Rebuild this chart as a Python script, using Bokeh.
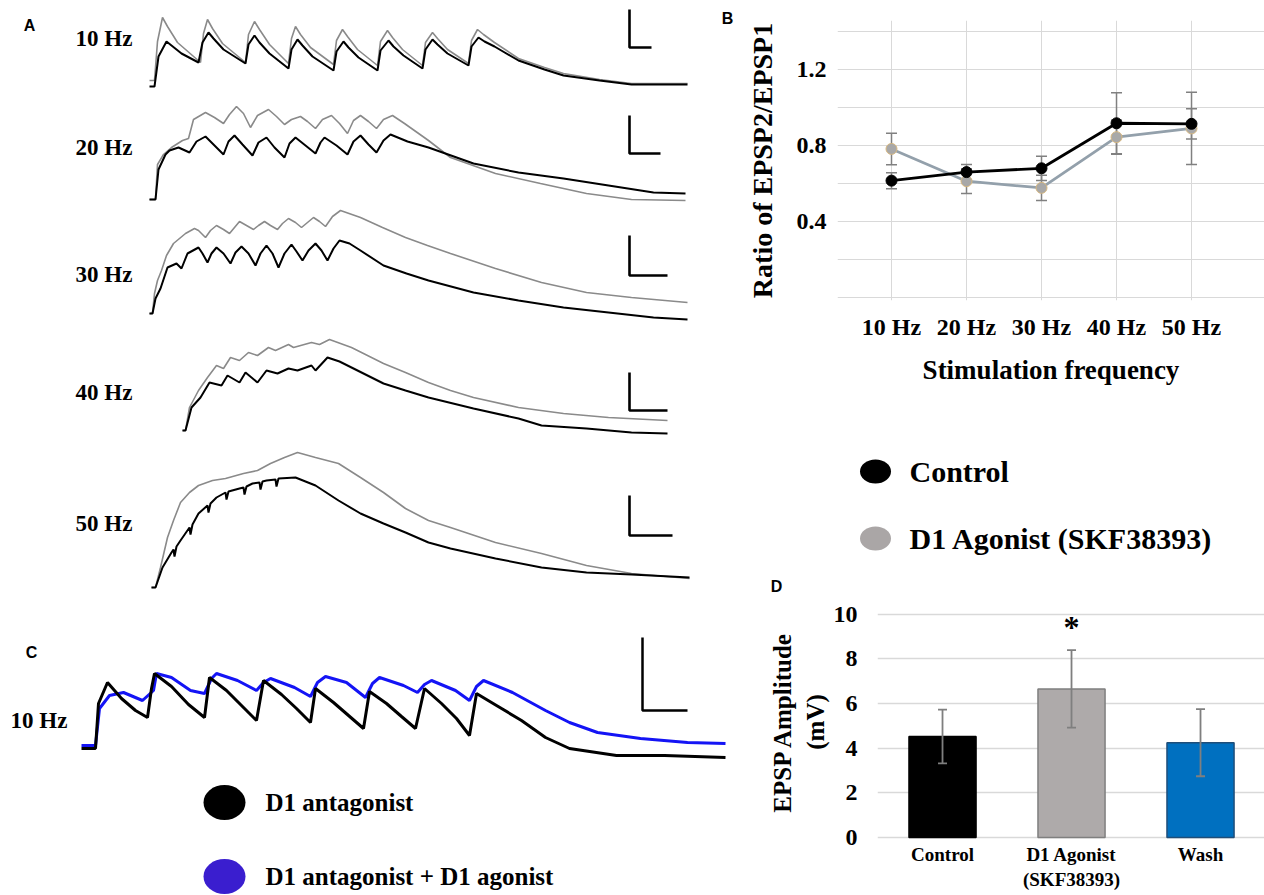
from bokeh.plotting import figure
from bokeh.layouts import row, column
from bokeh.models import Range1d, FixedTicker
from bokeh.core.properties import value
from bokeh.embed import file_html
from bokeh.resources import INLINE

SERIF = "Liberation Serif"
SANS = "Liberation Sans"

# ---------------- Panel A traces (t: time from trace start, v: depolarisation above baseline) -------------
hz10_skf_t = [0, 5, 8, 13, 18, 28, 51, 54, 58, 63, 73, 96, 99, 105, 110, 120, 139, 142, 146, 151, 161, 184, 187, 193, 198, 208, 228, 231, 238, 243, 253, 273, 276, 283, 288, 298, 319, 322, 328, 334, 345, 369, 395, 414, 450, 482, 538]
hz10_skf_v = [6, 6, 45, 69, 60, 44, 24, 53, 67, 58, 43, 24, 52, 65, 57, 42, 23, 48, 60, 52, 39, 22, 46, 57, 50, 37, 21, 45, 56, 49, 37, 21, 44, 54, 48, 37, 23, 46, 57, 52, 44, 28, 19, 13, 7, 3, 3]
hz10_ctrl_t = [0, 5, 9, 17, 22, 32, 49, 53, 59, 64, 74, 96, 99, 105, 110, 120, 139, 142, 148, 153, 163, 184, 187, 194, 199, 209, 228, 231, 239, 244, 254, 273, 276, 283, 288, 298, 319, 322, 329, 335, 345, 369, 395, 414, 450, 482, 538]
hz10_ctrl_v = [0, 0, 30, 45, 41, 33, 24, 44, 54, 48, 37, 23, 42, 51, 44, 33, 18, 37, 47, 41, 30, 16, 35, 45, 39, 29, 16, 36, 46, 40, 31, 18, 37, 47, 42, 33, 21, 40, 49, 45, 40, 26, 17, 11, 6, 2, 2]

hz20_skf_t = [0, 6, 8, 14, 22, 33, 39, 44, 56, 65, 74, 80, 87, 94, 101, 108, 119, 127, 135, 142, 151, 158, 166, 173, 182, 190, 198, 204, 211, 219, 227, 234, 243, 255, 279, 301, 346, 391, 437, 482, 536]
hz20_skf_v = [0, 0, 35, 45, 52, 59, 61, 80, 87, 82, 76, 85, 93, 86, 72, 84, 90, 83, 75, 80, 83, 78, 71, 80, 84, 76, 66, 79, 84, 78, 71, 80, 84, 76, 59, 42, 26, 16, 6, 0, -1]
hz20_ctrl_t = [0, 6, 9, 16, 20, 29, 40, 47, 56, 64, 74, 79, 85, 93, 103, 109, 117, 125, 135, 140, 146, 156, 166, 171, 175, 187, 198, 204, 211, 219, 227, 234, 241, 258, 279, 324, 369, 414, 459, 504, 536]
hz20_ctrl_v = [0, 0, 30, 45, 49, 52, 47, 58, 63, 55, 45, 58, 64, 55, 44, 57, 62, 52, 42, 56, 62, 54, 46, 57, 62, 54, 45, 58, 64, 55, 47, 59, 65, 58, 52, 36, 27, 21, 14, 7, 6]

hz30_skf_t = [0, 3, 5, 8, 12, 17, 24, 36, 45, 49, 56, 61, 67, 74, 80, 85, 90, 97, 104, 109, 115, 121, 128, 133, 139, 146, 152, 158, 164, 170, 176, 183, 191, 211, 233, 256, 278, 301, 346, 392, 437, 482, 538]
hz30_skf_v = [0, 0, 20, 33, 43, 58, 70, 80, 85, 83, 76, 83, 88, 84, 80, 86, 92, 88, 84, 88, 92, 88, 84, 90, 95, 91, 86, 91, 96, 92, 87, 97, 103, 96, 86, 76, 68, 60, 45, 31, 21, 16, 11]
hz30_ctrl_t = [0, 3, 6, 11, 18, 27, 32, 38, 49, 53, 58, 62, 67, 74, 81, 86, 92, 99, 106, 111, 117, 123, 129, 135, 142, 147, 153, 159, 166, 172, 178, 184, 190, 200, 211, 234, 257, 279, 324, 369, 414, 459, 504, 538]
hz30_ctrl_v = [0, 0, 15, 25, 46, 50, 45, 60, 66, 60, 51, 60, 66, 60, 50, 61, 67, 60, 48, 60, 68, 60, 46, 60, 69, 62, 53, 63, 70, 63, 53, 65, 73, 70, 63, 48, 40, 33, 21, 13, 6, 1, -4, -6]

hz40_skf_t = [0, 3, 7, 16, 25, 34, 41, 48, 57, 66, 75, 86, 93, 106, 111, 129, 137, 147, 158, 169, 185, 201, 223, 246, 268, 291, 336, 381, 426, 485]
hz40_skf_v = [0, 0, 23, 40, 53, 65, 62, 73, 70, 78, 75, 83, 80, 86, 83, 88, 86, 91, 87, 83, 75, 67, 58, 48, 40, 33, 23, 17, 13, 10]
hz40_ctrl_t = [0, 3, 9, 18, 27, 39, 45, 57, 63, 75, 84, 95, 106, 115, 129, 133, 145, 157, 169, 185, 201, 223, 246, 291, 336, 359, 404, 449, 485]
hz40_ctrl_v = [0, 0, 23, 33, 48, 45, 55, 48, 58, 48, 60, 57, 62, 60, 65, 60, 73, 69, 63, 55, 47, 40, 33, 22, 12, 5, 2, -2, -3]

hz50_skf_t = [0, 4, 9, 16, 22, 29, 38, 47, 61, 74, 92, 106, 119, 133, 146, 164, 187, 209, 232, 254, 277, 299, 344, 390, 435, 480, 538]
hz50_skf_v = [0, 0, 20, 50, 67, 85, 95, 102, 107, 109, 114, 117, 124, 130, 135, 130, 124, 110, 95, 79, 67, 60, 45, 34, 22, 14, 9]
hz50_ctrl_t = [0, 4, 11, 20, 22, 23, 25, 29, 38, 39, 41, 47, 56, 57, 59, 65, 74, 75, 77, 88, 92, 93, 95, 101, 108, 109, 111, 115, 124, 125, 127, 144, 164, 187, 209, 232, 254, 277, 299, 344, 390, 435, 480, 538]
hz50_ctrl_v = [0, 0, 20, 35, 38, 31, 41, 47, 60, 53, 63, 74, 82, 75, 84, 90, 95, 88, 96, 99, 100, 93, 101, 104, 105, 98, 106, 107, 108, 101, 109, 110, 102, 87, 74, 64, 55, 45, 39, 29, 20, 15, 13, 10]

# ---------------- Panel C traces ----------------
c_ant_t = [0, 14, 17, 26, 40, 54, 66, 70, 73, 90, 107, 123, 128, 145, 160, 175, 182, 200, 215, 229, 234, 252, 267, 282, 288, 305, 320, 334, 343, 360, 375, 388, 395, 415, 440, 464, 488, 535, 583, 644]
c_ant_v = [0, 0, 45, 66, 50, 38, 31, 60, 75, 62, 44, 31, 71, 58, 43, 28, 68, 54, 40, 26, 60, 46, 33, 20, 57, 45, 32, 20, 60, 45, 30, 13, 55, 43, 28, 11, 0, -7, -7, -9]
c_agon_t = [0, 14, 18, 28, 42, 61, 72, 75, 90, 109, 123, 130, 135, 156, 175, 182, 189, 213, 229, 236, 244, 265, 284, 291, 298, 322, 336, 343, 350, 374, 388, 395, 402, 431, 464, 488, 516, 559, 606, 644]
c_agon_v = [3, 3, 40, 53, 56, 48, 58, 75, 71, 58, 55, 70, 75, 68, 58, 66, 70, 61, 52, 66, 72, 66, 51, 65, 71, 63, 56, 64, 68, 58, 48, 62, 68, 56, 38, 26, 16, 10, 6, 5]

# ---------------- Panel B data ----------------
freq_pos = [1, 2, 3, 4, 5]
freq_labels = ["10 Hz", "20 Hz", "30 Hz", "40 Hz", "50 Hz"]
ctrl_ratio = [0.615, 0.66, 0.68, 0.917, 0.914]
ctrl_err = [0.042, 0.04, 0.064, 0.16, 0.08]
skf_ratio = [0.782, 0.612, 0.577, 0.844, 0.89]
skf_err = [0.083, 0.065, 0.066, 0.09, 0.19]
b_yticks = [0.4, 0.8, 1.2]
b_ygrid = [0.0, 0.2, 0.4, 0.6, 0.8, 1.0, 1.2, 1.4]

# ---------------- Panel D data ----------------
grp_pos = [1, 2, 3]
grp_labels = ["Control", "D1 Agonist\n(SKF38393)", "Wash"]
amp = [4.52, 6.65, 4.24]
amp_err = [1.2, 1.73, 1.5]
d_yticks = [0, 2, 4, 6, 8, 10]


def noalign(p):
    try:
        p.frame_align = False
    except Exception:
        pass
    return p


def canvas(w, h, x0, x1, y0, y1):
    p = figure(width=w, height=h, x_range=Range1d(x0, x1), y_range=Range1d(y1, y0),
               output_backend="svg", toolbar_location=None,
               x_axis_location=None, y_axis_location=None, min_border=0)
    p.outline_line_color = None
    p.grid.grid_line_color = None
    return noalign(p)


def txt(p, x, y, s, size, font=SERIF, align="left", color="black", baseline="middle"):
    p.text(x=[x], y=[y], text=[s], text_font=value(font), text_font_style="bold",
           text_font_size=size, text_align=align, text_baseline=baseline, text_color=color)


def style_axis(ax):
    ax.axis_line_color = None
    ax.major_tick_line_color = None
    ax.minor_tick_line_color = None
    ax.major_tick_out = 0
    ax.major_tick_in = 0
    ax.major_label_text_font = SERIF
    ax.major_label_text_font_style = "bold"
    ax.major_label_text_color = "#000000"
    ax.axis_label_text_font = SERIF
    ax.axis_label_text_font_style = "bold"
    ax.axis_label_text_color = "#000000"


# ======================= Panel A (also carries letter B) =======================
LEFT_W = 740
pA = canvas(LEFT_W, 620, 0, LEFT_W, 0, 620)
txt(pA, 29, 25, "A", "16px", font=SANS, align="center")
txt(pA, 727, 18, "B", "16px", font=SANS, align="center")
rowsA = [
    ("10 Hz", 38, 149, 86, hz10_skf_t, hz10_skf_v, hz10_ctrl_t, hz10_ctrl_v, (629, 9, 47, 651)),
    ("20 Hz", 147, 149, 199, hz20_skf_t, hz20_skf_v, hz20_ctrl_t, hz20_ctrl_v, (629, 115, 153, 660)),
    ("30 Hz", 274, 149, 313, hz30_skf_t, hz30_skf_v, hz30_ctrl_t, hz30_ctrl_v, (629, 235, 275, 667)),
    ("40 Hz", 392, 182, 430, hz40_skf_t, hz40_skf_v, hz40_ctrl_t, hz40_ctrl_v, (629, 372, 410, 667)),
    ("50 Hz", 523, 151, 587, hz50_skf_t, hz50_skf_v, hz50_ctrl_t, hz50_ctrl_v, (629, 495, 535, 672)),
]
for lab, ly, x0, base, st, sv, ct, cv, bar in rowsA:
    txt(pA, 75, ly, lab, "23px")
    pA.line([x0 + t for t in st], [base - v for v in sv], line_color="#8a8a8a", line_width=1.6)
    pA.line([x0 + t for t in ct], [base - v for v in cv], line_color="#000000", line_width=2.0)
    bx, btop, bbot, bend = bar
    pA.line([bx, bx, bend], [btop, bbot, bbot], line_color="#000000", line_width=2.6)

# ======================= Panel C =======================
pC = canvas(LEFT_W, 275, 0, LEFT_W, 620, 895)
txt(pC, 31, 652, "C", "16px", font=SANS, align="center")
txt(pC, 10, 720, "10 Hz", "23px")
cx0, cbase = 81, 748
pC.line([cx0 + t for t in c_agon_t], [cbase - v for v in c_agon_v], line_color="#1414f5", line_width=3.0)
pC.line([cx0 + t for t in c_ant_t], [cbase - v for v in c_ant_v], line_color="#000000", line_width=3.0)
pC.line([642, 642, 687], [637, 710, 710], line_color="#000000", line_width=2.5)
pC.ellipse(x=[224, 224], y=[802, 876], width=[42, 42], height=[35, 35],
           fill_color=["#000000", "#3a1ecf"], line_color=None)
txt(pC, 265, 802, "D1 antagonist", "25px")
txt(pC, 265, 876, "D1 antagonist + D1 agonist", "25px")

# ======================= Panel B =======================
RIGHT_W = 1264 - LEFT_W
pB = figure(width=RIGHT_W, height=400, x_range=Range1d(0.28, 5.973), y_range=Range1d(-0.0158, 1.4579),
            output_backend="svg", toolbar_location=None,
            min_border_left=837 - LEFT_W, min_border_right=0, min_border_top=20, min_border_bottom=100)
noalign(pB)
pB.outline_line_color = None
pB.xgrid.ticker = FixedTicker(ticks=freq_pos)
pB.ygrid.ticker = FixedTicker(ticks=b_ygrid)
pB.grid.grid_line_color = "#d9d9d9"
pB.grid.grid_line_width = 1
for ax in (pB.xaxis[0], pB.yaxis[0]):
    style_axis(ax)
    ax.major_label_text_font_size = "24px"
    ax.axis_label_text_font_size = "28px"
pB.yaxis.ticker = FixedTicker(ticks=b_yticks)
pB.yaxis.major_label_standoff = 11
pB.yaxis.axis_label = "Ratio of EPSP2/EPSP1"
pB.yaxis.axis_label_standoff = 16
pB.xaxis.ticker = FixedTicker(ticks=freq_pos)
pB.xaxis.major_label_overrides = {k: s for k, s in zip(freq_pos, freq_labels)}
pB.xaxis.major_label_standoff = 13
pB.xaxis.axis_label = "Stimulation frequency"
pB.xaxis.axis_label_text_font_size = "27px"
pB.xaxis.axis_label_standoff = 12

for vals, errs in ((skf_ratio, skf_err), (ctrl_ratio, ctrl_err)):
    lo = [v - e for v, e in zip(vals, errs)]
    hi = [v + e for v, e in zip(vals, errs)]
    pB.segment(x0=freq_pos, y0=lo, x1=freq_pos, y1=hi, line_color="#808080", line_width=1.5)
    pB.scatter(x=freq_pos + freq_pos, y=lo + hi, marker="dash", size=11,
               line_color="#808080", line_width=1.5)
pB.line(freq_pos, skf_ratio, line_color="#93a0ab", line_width=2.8)
pB.scatter(freq_pos, skf_ratio, size=11, fill_color="#a8a8a8", line_color="#d8b880", line_width=1)
pB.line(freq_pos, ctrl_ratio, line_color="#000000", line_width=2.8)
pB.scatter(freq_pos, ctrl_ratio, size=11, fill_color="#000000", line_color="#000000")

# ======================= Legend for B + letter D =======================
pL = canvas(RIGHT_W, 195, LEFT_W, 1264, 400, 595)
pL.ellipse(x=[875, 875], y=[471, 538], width=[31, 31], height=[24, 24],
           fill_color=["#000000", "#aaa6a6"], line_color=None)
txt(pL, 909, 471, "Control", "30px")
txt(pL, 909, 538, "D1 Agonist (SKF38393)", "30px")
txt(pL, 776, 586, "D", "16px", font=SANS, align="center")

# ======================= Panel D =======================
pD = figure(width=RIGHT_W, height=300, x_range=Range1d(0.496, 3.496), y_range=Range1d(-0.134, 10.47),
            output_backend="svg", toolbar_location=None,
            min_border_left=877 - LEFT_W, min_border_right=0, min_border_top=8, min_border_bottom=55)
noalign(pD)
pD.outline_line_color = None
pD.xgrid.grid_line_color = None
pD.ygrid.ticker = FixedTicker(ticks=d_yticks)
pD.ygrid.grid_line_color = "#d9d9d9"
pD.ygrid.grid_line_width = 1.5
for ax in (pD.xaxis[0], pD.yaxis[0]):
    style_axis(ax)
pD.yaxis.ticker = FixedTicker(ticks=d_yticks)
pD.yaxis.major_label_text_font_size = "24px"
pD.yaxis.major_label_standoff = 20
pD.yaxis.axis_label = "EPSP Amplitude\n(mV)"
pD.yaxis.axis_label_text_font_size = "25px"
pD.yaxis.axis_label_standoff = 2
pD.xaxis.ticker = FixedTicker(ticks=grp_pos)
pD.xaxis.major_label_overrides = {k: s for k, s in zip(grp_pos, grp_labels)}
pD.xaxis.major_label_text_font_size = "19px"
pD.xaxis.major_label_standoff = 3

pD.vbar(x=grp_pos, top=amp, width=0.52, bottom=0,
        fill_color=["#000000", "#aeaaaa", "#0070c0"],
        line_color=["#000000", "#7f7f7f", "#1f4e79"], line_width=1.5)
lo = [v - e for v, e in zip(amp, amp_err)]
hi = [v + e for v, e in zip(amp, amp_err)]
pD.segment(x0=grp_pos, y0=lo, x1=grp_pos, y1=hi, line_color="#7f7f7f", line_width=1.8)
pD.scatter(x=grp_pos + grp_pos, y=lo + hi, marker="dash", size=9, line_color="#7f7f7f", line_width=1.8)
pD.text(x=[2], y=[9.4], text=["*"], text_font=value(SERIF), text_font_style="bold",
        text_font_size="32px", text_align="center", text_baseline="middle", text_color="black")

layout = row(column(pA, pC), column(pB, pL, pD))
open("out.html", "w").write(file_html(layout, INLINE))
